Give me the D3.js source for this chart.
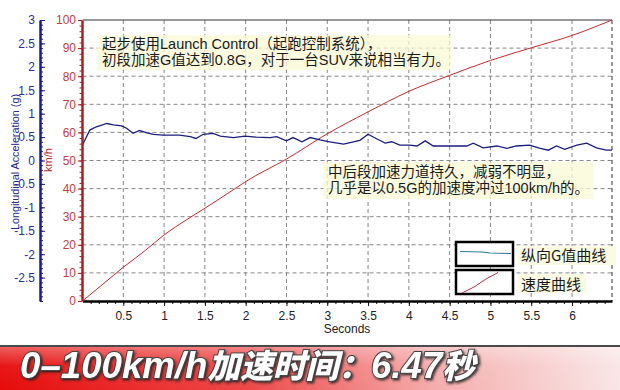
<!DOCTYPE html>
<html>
<head>
<meta charset="utf-8">
<script src="https://cdn.jsdelivr.net/npm/d3@7"></script>
<style>
  body { margin: 0; background: #fff; }
  svg { display: block; font-family: "Liberation Sans", Arial, sans-serif; }
</style>
</head>
<body>
<svg id="chart" width="620" height="390"></svg>
<script>
// data
var timeG = [0.00, 0.09, 0.17, 0.30, 0.38, 0.48, 0.54, 0.62, 0.70, 0.79, 0.87, 0.99, 1.19, 1.32, 1.39, 1.48, 1.60, 1.69, 1.85, 1.99,
  2.13, 2.30, 2.38, 2.50, 2.58, 2.69, 2.79, 2.91, 3.03, 3.20, 3.40, 3.50, 3.61, 3.71, 3.79, 3.89, 4.01, 4.10, 4.20, 4.30,
  4.50, 4.71, 4.79, 4.91, 5.08, 5.20, 5.32, 5.48, 5.61, 5.71, 5.81, 5.91, 6.06, 6.18, 6.30, 6.42, 6.49];
var gValues = [0.33, 0.65, 0.72, 0.79, 0.76, 0.74, 0.69, 0.58, 0.64, 0.59, 0.56, 0.54, 0.54, 0.51, 0.47, 0.56, 0.58, 0.52, 0.49, 0.52,
  0.50, 0.49, 0.51, 0.42, 0.49, 0.40, 0.49, 0.44, 0.40, 0.35, 0.43, 0.56, 0.46, 0.37, 0.40, 0.33, 0.33, 0.31, 0.42, 0.31,
  0.31, 0.31, 0.37, 0.27, 0.31, 0.26, 0.31, 0.33, 0.26, 0.22, 0.31, 0.24, 0.33, 0.37, 0.27, 0.22, 0.22];

var timeSpeed = [0, 0.25, 0.5, 0.77, 1.0, 1.28, 1.5, 1.87, 2.0, 2.5, 3.0, 3.5, 4.0, 4.5, 5.0, 5.5, 6.0, 6.49];
var speedValues = [0, 6, 12, 18, 23.5, 29, 33, 40, 42.5, 50.5, 59.5, 67.3, 74.6, 80.3, 85.6, 90.1, 94.5, 100];

var secondTicks = [0.5, 1, 1.5, 2, 2.5, 3, 3.5, 4, 4.5, 5, 5.5, 6];
var speedTicks = [0, 10, 20, 30, 40, 50, 60, 70, 80, 90, 100];
var gTicks = [3, 2.5, 2, 1.5, 1, 0.5, 0, -0.5, -1, -1.5, -2, -2.5];

var noteTop = ["起步使用Launch Control（起跑控制系统），", "初段加速G值达到0.8G，对于一台SUV来说相当有力。"];
var noteMid = ["中后段加速力道持久，减弱不明显，", "几乎是以0.5G的加速度冲过100km/h的。"];
var legendLabels = ["纵向G值曲线", "速度曲线"];
var bannerParts = ["0–100km/h", "加速时间：", "6.47", "秒"];

var svg = d3.select("#chart");

var x = d3.scaleLinear().domain([0, 6.49]).range([82.5, 612]);
var ySpeed = d3.scaleLinear().domain([0, 100]).range([301, 20]);
var yG = d3.scaleLinear().domain([-3, 3]).range([301, 20]);

var defs = svg.append("defs");
var grad = defs.append("linearGradient").attr("id", "banner").attr("x1", 0).attr("x2", 1).attr("y1", 0).attr("y2", 0);
grad.append("stop").attr("offset", "0%").attr("stop-color", "#e60b0b");
grad.append("stop").attr("offset", "40%").attr("stop-color", "#ee4848");
grad.append("stop").attr("offset", "70%").attr("stop-color", "#f5acac");
grad.append("stop").attr("offset", "100%").attr("stop-color", "#f9e6e6");
var gloss = defs.append("linearGradient").attr("id", "gloss").attr("x1", 0).attr("x2", 0).attr("y1", 0).attr("y2", 1);
gloss.append("stop").attr("offset", "0%").attr("stop-color", "#fff").attr("stop-opacity", 0.35);
gloss.append("stop").attr("offset", "45%").attr("stop-color", "#fff").attr("stop-opacity", 0.05);
gloss.append("stop").attr("offset", "100%").attr("stop-color", "#fff").attr("stop-opacity", 0);
defs.append("filter").attr("id", "shadow").attr("x", "-10%").attr("y", "-20%").attr("width", "120%").attr("height", "150%")
  .append("feDropShadow").attr("dx", 1.5).attr("dy", 1.5).attr("stdDeviation", 1.2).attr("flood-color", "#222").attr("flood-opacity", 0.85);

//grid
svg.append("g").selectAll("line").data(secondTicks).enter().append("line")
  .attr("x1", function(d){ return x(d); }).attr("x2", function(d){ return x(d); })
  .attr("y1", ySpeed(100)).attr("y2", ySpeed(0))
  .attr("stroke", "#858585").attr("stroke-dasharray", "4,3");
svg.append("g").selectAll("line").data(speedTicks.slice(1, -1)).enter().append("line")
  .attr("x1", x(0)).attr("x2", x(6.49))
  .attr("y1", function(d){ return ySpeed(d); }).attr("y2", function(d){ return ySpeed(d); })
  .attr("stroke", "#858585").attr("stroke-dasharray", "4,3");
svg.append("line").attr("x1", x(0)).attr("x2", x(6.49)).attr("y1", ySpeed(100)).attr("y2", ySpeed(100))
  .attr("stroke", "#333").attr("stroke-width", 1.2);
svg.append("line").attr("x1", x(6.49)).attr("x2", x(6.49)).attr("y1", ySpeed(100)).attr("y2", ySpeed(0))
  .attr("stroke", "#333").attr("stroke-dasharray", "4,3");

//notes: one text element each, lines as tspans
function drawNote(lines, bx, by, bw, bh, tx, ty){
  svg.append("rect").attr("x", bx).attr("y", by).attr("width", bw).attr("height", bh)
    .attr("fill", "#fafad6").attr("opacity", 0.75);
  svg.append("text").attr("y", ty)
    .attr("font-family", "'Liberation Sans', 'Noto Sans CJK SC', sans-serif").attr("font-size", 14.5).attr("fill", "#1a1a1a")
    .selectAll("tspan").data(lines).enter().append("tspan")
    .attr("x", tx).attr("dy", function(d, i){ return i == 0 ? 0 : 16.4; })
    .text(function(d){ return d; });
}
drawNote(noteTop, 97, 35, 354, 35, 102, 48.5);
drawNote(noteMid, 323, 162, 270, 37, 328, 176.5);

//curves
var speedLine = d3.line().curve(d3.curveMonotoneX)
  .x(function(d, i){ return x(timeSpeed[i]); }).y(function(d){ return ySpeed(d); });
svg.append("path").datum(speedValues).attr("d", speedLine)
  .attr("fill", "none").attr("stroke", "#c42a2a").attr("stroke-width", 1);
var gLine = d3.line().x(function(d, i){ return x(timeG[i]); }).y(function(d){ return yG(d); });
svg.append("path").datum(gValues).attr("d", gLine)
  .attr("fill", "none").attr("stroke", "#1d1d7e").attr("stroke-width", 1.3);

//x axis
var xMinor = svg.append("g").attr("transform", "translate(0,301)")
  .call(d3.axisBottom(x).tickValues(d3.range(1, 65).map(function(i){ return i / 10; })).tickSize(3).tickFormat(""));
xMinor.select(".domain").remove();
xMinor.selectAll("line").attr("stroke", "#111");
var xAxis = svg.append("g").attr("transform", "translate(0,301)")
  .call(d3.axisBottom(x).tickValues(secondTicks).tickSize(5).tickSizeOuter(0).tickPadding(5).tickFormat(function(d){ return String(d); }));
xAxis.select(".domain").attr("stroke", "#000").attr("stroke-width", 2.5);
xAxis.selectAll("line").attr("stroke", "#111");
xAxis.selectAll("text").attr("font-size", 12).attr("fill", "#222").attr("font-family", "'Liberation Sans', Arial, sans-serif");
svg.append("text").attr("x", 347).attr("y", 333).attr("text-anchor", "middle")
  .attr("font-size", 12).attr("fill", "#222").text("Seconds");

//speed axis
var sMinor = svg.append("g").attr("transform", "translate(82,0)")
  .call(d3.axisLeft(ySpeed).tickValues(d3.range(0, 51).map(function(i){ return i * 2; })).tickSize(2.5).tickFormat(""));
sMinor.select(".domain").remove();
sMinor.selectAll("line").attr("stroke", "#a52222");
var sAxis = svg.append("g").attr("transform", "translate(82,0)")
  .call(d3.axisLeft(ySpeed).tickValues(speedTicks).tickSize(4).tickSizeOuter(0).tickPadding(2));
sAxis.select(".domain").attr("stroke", "#a82020").attr("stroke-width", 2.5);
sAxis.selectAll("line").attr("stroke", "#a82020");
sAxis.selectAll("text").attr("font-size", 12).attr("fill", "#c83c3c").attr("font-family", "'Liberation Sans', Arial, sans-serif");

//G axis
var gMinor = svg.append("g").attr("transform", "translate(40,0)")
  .call(d3.axisLeft(yG).tickValues(d3.range(-30, 31).map(function(i){ return i / 10; })).tickSizeInner(-3).tickSizeOuter(0).tickFormat(""));
gMinor.select(".domain").remove();
gMinor.selectAll("line").attr("stroke", "#1c1c88");
var gAxis = svg.append("g").attr("transform", "translate(40,0)")
  .call(d3.axisLeft(yG).tickValues(gTicks).tickSizeInner(-5).tickSizeOuter(0).tickPadding(5).tickFormat(function(d){ return String(d); }));
gAxis.select(".domain").attr("stroke", "#1c1c88").attr("stroke-width", 2.5);
gAxis.selectAll("line").attr("stroke", "#1c1c88");
gAxis.selectAll("text").attr("font-size", 12).attr("fill", "#2e2e90").attr("font-family", "'Liberation Sans', Arial, sans-serif");

svg.append("text").attr("transform", "translate(19,162) rotate(-90)").attr("text-anchor", "middle")
  .attr("font-size", 11).attr("fill", "#262690").attr("textLength", 136).attr("lengthAdjust", "spacingAndGlyphs")
  .text("Longitudinal Acceleration (g)");
svg.append("text").attr("transform", "translate(52,160) rotate(-90)").attr("text-anchor", "middle")
  .attr("font-size", 11).attr("fill", "#b52a2a").text("km/h");

//legend
var legend = svg.append("g");
legend.selectAll("rect.box").data(legendLabels).enter().append("rect").attr("class", "box")
  .attr("x", 456).attr("y", function(d, i){ return 242 + i * 28; })
  .attr("width", 57).attr("height", 24)
  .attr("fill", "#fff").attr("stroke", "#000").attr("stroke-width", 2.5);
legend.selectAll("rect.bg").data(legendLabels).enter().append("rect").attr("class", "bg")
  .attr("x", 518).attr("y", function(d, i){ return 246 + i * 28; })
  .attr("width", function(d){ return d.length * 15 + 8; }).attr("height", 19)
  .attr("fill", "#fbfbe4");
legend.selectAll("text").data(legendLabels).enter().append("text")
  .attr("x", 521).attr("y", function(d, i){ return 261 + i * 29; })
  .attr("font-family", "'Noto Sans CJK SC', sans-serif").attr("font-size", 15).attr("fill", "#1a1a1a")
  .text(function(d){ return d; });
legend.append("path").attr("d", "M460,251.5 L482,252 L490,253 L511,253.5")
  .attr("fill", "none").attr("stroke", "#2a7a9a").attr("stroke-width", 1.2);
legend.append("path").attr("d", "M462,293 L474,287 L486,279 L498,272.5")
  .attr("fill", "none").attr("stroke", "#b03040").attr("stroke-width", 1);

//banner
svg.append("rect").attr("x", 0).attr("y", 346).attr("width", 620).attr("height", 44).attr("fill", "url(#banner)");
svg.append("rect").attr("x", 0).attr("y", 346).attr("width", 620).attr("height", 44).attr("fill", "url(#gloss)");
svg.append("line").attr("x1", 0).attr("x2", 620).attr("y1", 346).attr("y2", 346).attr("stroke", "#4a4a4a").attr("stroke-width", 2.2);

svg.append("g").attr("filter", "url(#shadow)").append("text")
  .attr("x", 20).attr("y", 378)
  .attr("textLength", 455).attr("lengthAdjust", "spacingAndGlyphs")
  .attr("font-family", "'Liberation Sans', 'Noto Sans CJK SC', sans-serif")
  .attr("font-weight", "900").attr("font-style", "italic")
  .attr("fill", "#fff").attr("stroke", "#444").attr("stroke-width", 2).attr("paint-order", "stroke")
  .selectAll("tspan").data(bannerParts).enter().append("tspan")
  .attr("font-size", function(d, i){ return (i == 0 || i == 2) ? 37 : 33; })
  .text(function(d){ return d; });
</script>
</body>
</html>
